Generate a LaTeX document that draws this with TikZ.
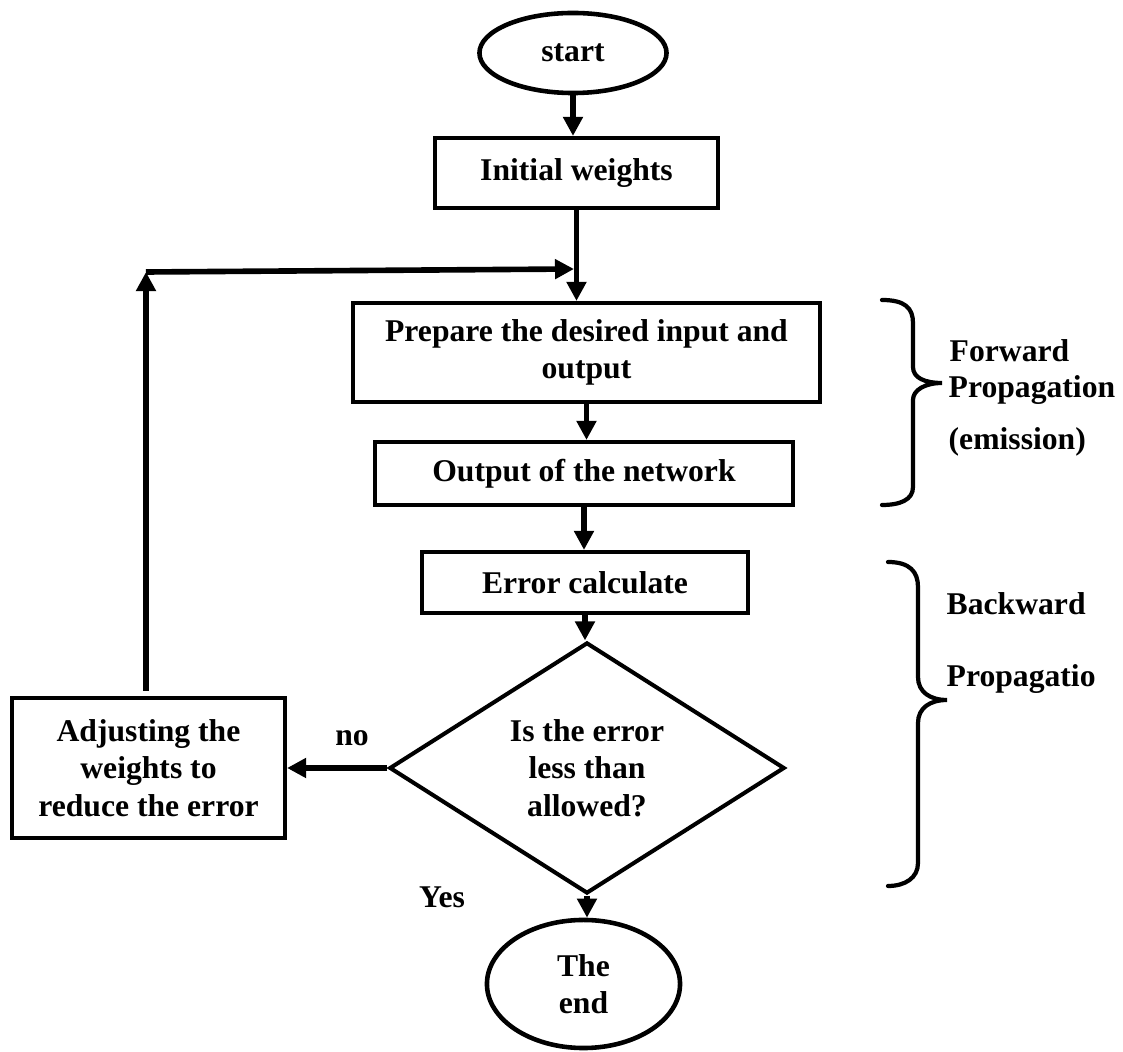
\documentclass[tikz,border=0pt]{standalone}
\usepackage{fontspec}
\setmainfont{Liberation Serif}
\usetikzlibrary{shapes.geometric,arrows.meta}
\tikzset{
  box/.style={draw,line width=1.15pt,rectangle,inner sep=0pt,align=center},
  term/.style={draw,line width=1.3pt,ellipse,inner sep=0pt,align=center},
  decide/.style={draw,line width=1.15pt,diamond,inner sep=0pt,align=center},
  flow/.style={line width=1.6pt,-{Triangle[length=1.9mm,width=1.9mm]}},
  brace/.style={line width=1.2pt,line cap=round},
  lbl/.style={inner sep=0pt}
}
\begin{document}
\begin{tikzpicture}[x=0.01cm,y=-0.01cm,font=\bfseries\fontsize{9}{10.6}\selectfont]
  \useasboundingbox (0,0) rectangle (1123,1052);
  \node[term,minimum width=1.87cm,minimum height=0.8cm] (start) at (573,53) {start};
  \node[box,minimum width=2.83cm,minimum height=0.70cm] (init) at (576.5,173) {Initial weights};
  \node[box,minimum width=4.67cm,minimum height=0.99cm] (prep) at (586.5,352.5) {Prepare the desired input and\\output};
  \node[box,minimum width=4.18cm,minimum height=0.63cm] (outnet) at (584,473.5) {Output of the network};
  \node[box,minimum width=3.26cm,minimum height=0.61cm] (errc) at (585,582.5) {Error calculate};
  \node[decide,minimum width=3.95cm,minimum height=2.23cm] (dec) at (587,768) {Is the error\\less than\\allowed?};
  \node[term,minimum width=1.93cm,minimum height=1.28cm] (fin) at (583.5,984) {The\\end};
  \node[box,minimum width=2.73cm,minimum height=1.40cm] (adj) at (148.5,768) {Adjusting the\\weights to\\reduce the error};
  \coordinate (fb) at (146,272);
  \coordinate (join) at (574,269);
  % main flow
  \draw[flow] (start.south) -- (start.south |- init.north);
  \draw[flow] (init.south) -- (init.south |- prep.north);
  \draw[flow] (prep.south) -- (prep.south |- outnet.north);
  \draw[flow] (outnet.south) -- (outnet.south |- errc.north);
  \draw[flow] (errc.south) -- (errc.south |- dec.north);
  \draw[flow] (dec.south) -- (dec.south |- fin.north);
  \draw[flow] (dec.west) -- (adj.east);
  \draw[flow,shorten <=0.5mm] (adj.north -| fb) -- (fb);
  \draw[flow] (fb) -- (join);
  \node[lbl] (no) at (352,738) {no};
  \node[lbl] (yes) at (442,897) {Yes};
  % braces
  \draw[brace] (882,300) .. controls (905,300) and (913,308) .. (913,323) -- (913,367)
    .. controls (913,378) and (925,383) .. (942,383) .. controls (925,383) and (913,390) .. (913,400)
    -- (913,487) .. controls (913,500) and (900,505) .. (882,505);
  \draw[brace] (888,562) .. controls (910,562) and (918,572) .. (918,587) -- (918,677)
    .. controls (918,692) and (930,700) .. (947,700) .. controls (930,700) and (918,708) .. (918,723)
    -- (918,863) .. controls (918,878) and (905,886) .. (888,886);
  \node[lbl,anchor=base west] (fwd1) at (949,362) {Forward};
  \node[lbl,anchor=base west] (fwd2) at (948,398) {Propagation};
  \node[lbl,anchor=base west] (fwd3) at (948,450) {(emission)};
  \node[lbl,anchor=base west] (bwd1) at (946,615) {Backward};
  \node[lbl,anchor=base west] (bwd2) at (946,687) {Propagatio};
\end{tikzpicture}
\end{document}
